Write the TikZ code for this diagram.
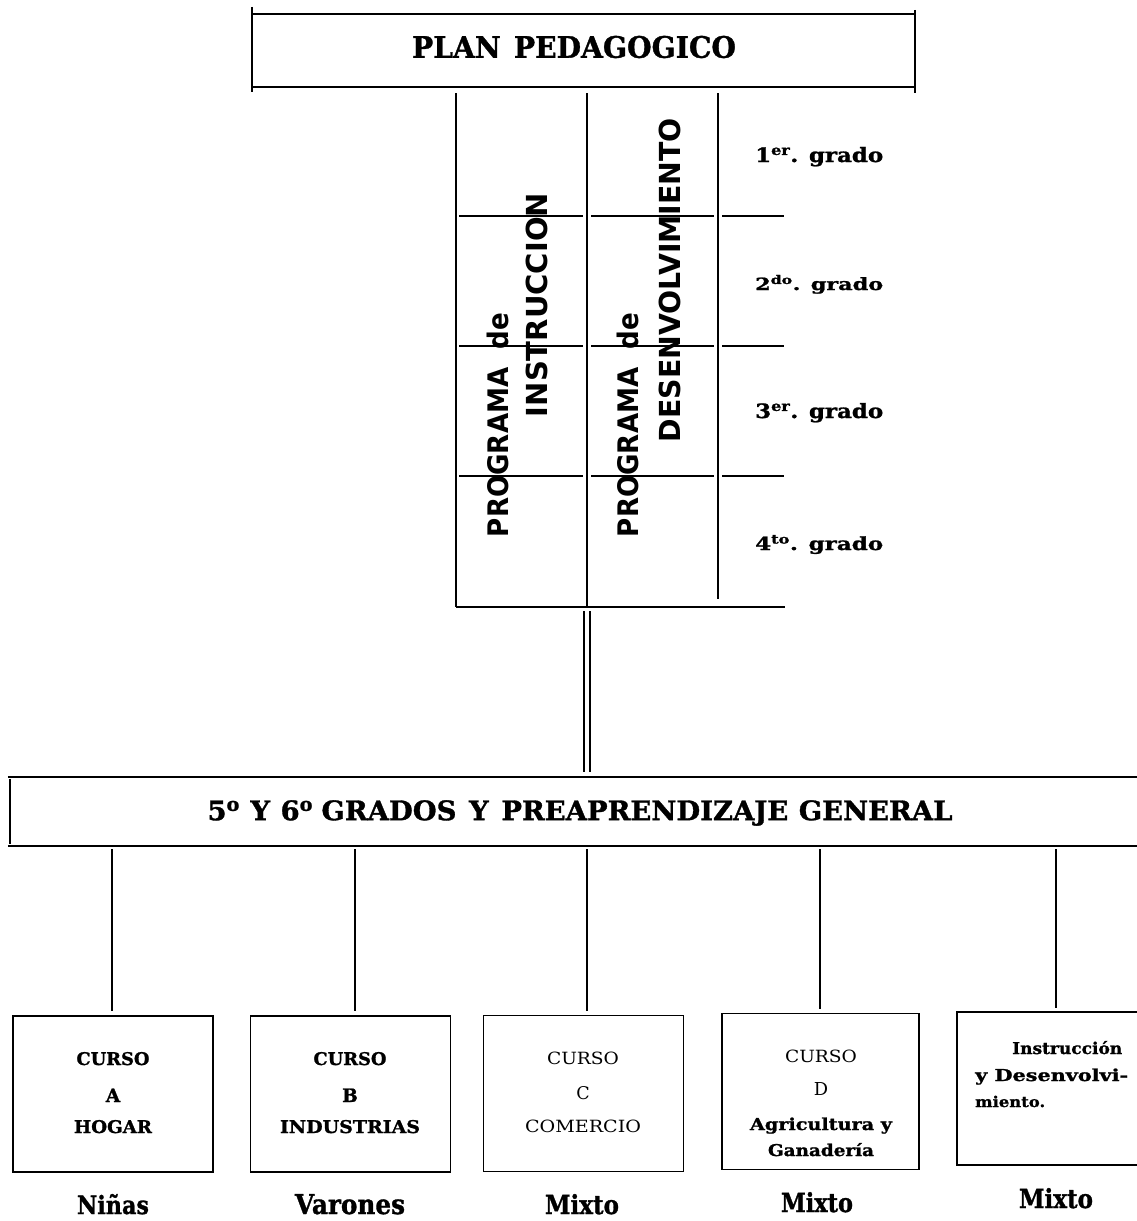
\documentclass[tikz,border=0pt]{standalone}
\usepackage{fontspec}
\setmainfont{DejaVu Serif}[BoldFeatures={FakeBold=1.2}]
\newfontfamily\hsans{DejaVu Sans}
\tikzset{
  ln/.style={line width=1.7pt},
  cbox/.style={draw, line width=1.7pt, minimum width=200pt, minimum height=156pt, inner sep=0pt},
  vtext/.style={rotate=90, inner sep=0pt, font=\hsans\bfseries\fontsize{29}{29}\selectfont},
  boxtxt/.style={inner sep=0pt, anchor=base, font=\fontsize{17}{17}\selectfont\bfseries},
  boxtxtm/.style={inner sep=0pt, anchor=base, font=\fontsize{17}{17}\selectfont},
  smalltxt/.style={inner sep=0pt, anchor=base, font=\fontsize{15}{15}\selectfont\bfseries},
  sexlbl/.style={inner sep=0pt, anchor=base, font=\fontsize{24}{24}\selectfont\bfseries},
  gradolbl/.style={inner sep=0pt, anchor=base west, font=\fontsize{21}{21}\selectfont\bfseries},
}
\begin{document}
\begin{tikzpicture}[x=1pt,y=-1pt]
\useasboundingbox (0,0) rectangle (1137,1221);

% ---------- top box ----------
\node[minimum width=663pt, minimum height=73pt, inner sep=0pt] (plan) at (583.5,50.5) {};
\node[inner sep=0pt] (plantxt) at (574,47)
  {\resizebox{324pt}{22pt}{\fontsize{30}{30}\selectfont\bfseries PLAN\hspace{14pt}PEDAGOGICO}};
\draw[ln] (plan.north west) -- (plan.north east);
\draw[ln] (plan.south west) -- (plan.south east);
\draw[ln] ([yshift=7pt]plan.north west) -- ([yshift=-5pt]plan.south west);
\draw[ln] ([yshift=4pt]plan.north east) -- ([yshift=-6pt]plan.south east);

% ---------- vertical texts ----------
\node[vtext] (p1) at (498,425) {\resizebox{224pt}{21.5pt}{PROGRAMA\hspace{20pt}de}};
\node[vtext] (i1) at (537,305) {\resizebox{224pt}{21.5pt}{INSTRUCCION}};
\node[vtext] (p2) at (628,425) {\resizebox{224pt}{21.5pt}{PROGRAMA\hspace{20pt}de}};
\node[vtext] (d2) at (670,280) {\resizebox{324pt}{21.5pt}{DESENVOLVIMIENTO}};

% ---------- grid ----------
\draw[ln] (456,93) -- (456,607);
\draw[ln] (587,93) -- (587,607);
\draw[ln] (718,93) -- (718,599);
\foreach \yy in {216,346,476}{
  \draw[ln] (459,\yy) -- (583,\yy);
  \draw[ln] (591,\yy) -- (714,\yy);
  \draw[ln] (722,\yy) -- (784,\yy);
}
\draw[ln] (456,607) -- (785,607);
\coordinate (gridb) at (587,611);

% ---------- grado labels ----------
\node[gradolbl] (g1) at (755,162) {\resizebox{128pt}{15pt}{1\textsuperscript{er}. grado}};
\node[gradolbl] (g2) at (755,290) {\resizebox{128pt}{15pt}{2\textsuperscript{do}. grado}};
\node[gradolbl] (g3) at (755,418) {\resizebox{128pt}{15pt}{3\textsuperscript{er}. grado}};
\node[gradolbl] (g4) at (755,550) {\resizebox{128pt}{15pt}{4\textsuperscript{to}. grado}};

% ---------- general box ----------
\node[minimum width=1129pt, minimum height=69pt, inner sep=0pt] (gen) at (572.5,811.5) {};
\draw[ln] (gen.north west) -- (gen.north east);
\draw[ln] (gen.south west) -- (gen.south east);
\draw[ln] ([xshift=2pt,yshift=-2pt]gen.north west) -- ([xshift=2pt,yshift=2pt]gen.south west);
\node[inner sep=0pt] (gentxt) at (580,813)
  {\resizebox{745pt}{20pt}{\fontsize{26}{26}\selectfont\bfseries 5\textsuperscript{o}\hspace{10pt}Y\hspace{10pt}6\textsuperscript{o}\hspace{8pt}GRADOS\hspace{12pt}Y\hspace{12pt}PREAPRENDIZAJE\hspace{10pt}GENERAL}};

% double connector
\draw[line width=1.3pt, double, double distance=4.7pt, shorten >=5pt] (gridb) -- (gridb |- gen.north);

% ---------- course boxes ----------
\node[cbox] (bA) at (113,1094) {};
\node[cbox] (bB) at (350.5,1094) {};
\node[cbox] (bC) at (583.5,1093.5) {};
\node[cbox, minimum width=197pt] (bD) at (820.5,1091.5) {};
\node[minimum width=183pt, minimum height=153pt, inner sep=0pt] (bE) at (1048.5,1088.5) {};
\draw[ln] (1137,1012) -- (957,1012) -- (957,1165) -- (1137,1165);

% branch connectors
\foreach \xx/\nm in {112/bA,355/bB,587/bC,820/bD,1056/bE}{
  \coordinate (s\nm) at (\xx,849);
  \path (s\nm |- \nm.north) ++(0,-4) coordinate (e\nm);
  \draw[ln] (s\nm) -- (e\nm);
}

% box texts
\node[boxtxt] (a1) at (113,1065) {\resizebox{73pt}{13pt}{CURSO}};
\node[boxtxt] (a2) at (113,1102) {\resizebox{!}{13.5pt}{A}};
\node[boxtxt] (a3) at (113,1133) {\resizebox{78pt}{13pt}{HOGAR}};

\node[boxtxt] (b1) at (350,1065) {\resizebox{73pt}{13pt}{CURSO}};
\node[boxtxt] (b2) at (350,1102) {\resizebox{!}{13.5pt}{B}};
\node[boxtxt] (b3) at (350,1133) {\resizebox{140pt}{13pt}{INDUSTRIAS}};

\node[boxtxtm] (c1) at (583,1064) {\resizebox{72pt}{12.5pt}{CURSO}};
\node[boxtxtm] (c2) at (583,1099) {\resizebox{!}{13pt}{C}};
\node[boxtxtm] (c3) at (583,1132) {\resizebox{116pt}{12.5pt}{COMERCIO}};

\node[boxtxtm] (d1) at (821,1062) {\resizebox{72pt}{12.5pt}{CURSO}};
\node[boxtxtm] (d2t) at (821,1095) {\resizebox{!}{13pt}{D}};
\node[smalltxt] (d3) at (821,1130) {\resizebox{142pt}{12.5pt}{Agricultura y}};
\node[smalltxt] (d4) at (821,1156) {\resizebox{106pt}{13pt}{Ganadería}};

\node[smalltxt, anchor=base west] (e1) at (1012,1054) {\resizebox{110pt}{13pt}{Instrucción}};
\node[smalltxt, anchor=base west] (e2) at (975,1081) {\resizebox{153pt}{12.5pt}{y Desenvolvi-}};
\node[smalltxt, anchor=base west] (e3) at (975,1107) {\resizebox{70pt}{11.3pt}{miento.}};

% labels below
\node[sexlbl] (lA) at (113,1214) {\resizebox{72pt}{20pt}{Niñas}};
\node[sexlbl] (lB) at (350,1214) {\resizebox{110pt}{20pt}{Varones}};
\node[sexlbl] (lC) at (582,1214) {\resizebox{74pt}{20pt}{Mixto}};
\node[sexlbl] (lD) at (817,1212) {\resizebox{72pt}{20pt}{Mixto}};
\node[sexlbl] (lE) at (1056,1208) {\resizebox{74pt}{20pt}{Mixto}};
\end{tikzpicture}
\end{document}
